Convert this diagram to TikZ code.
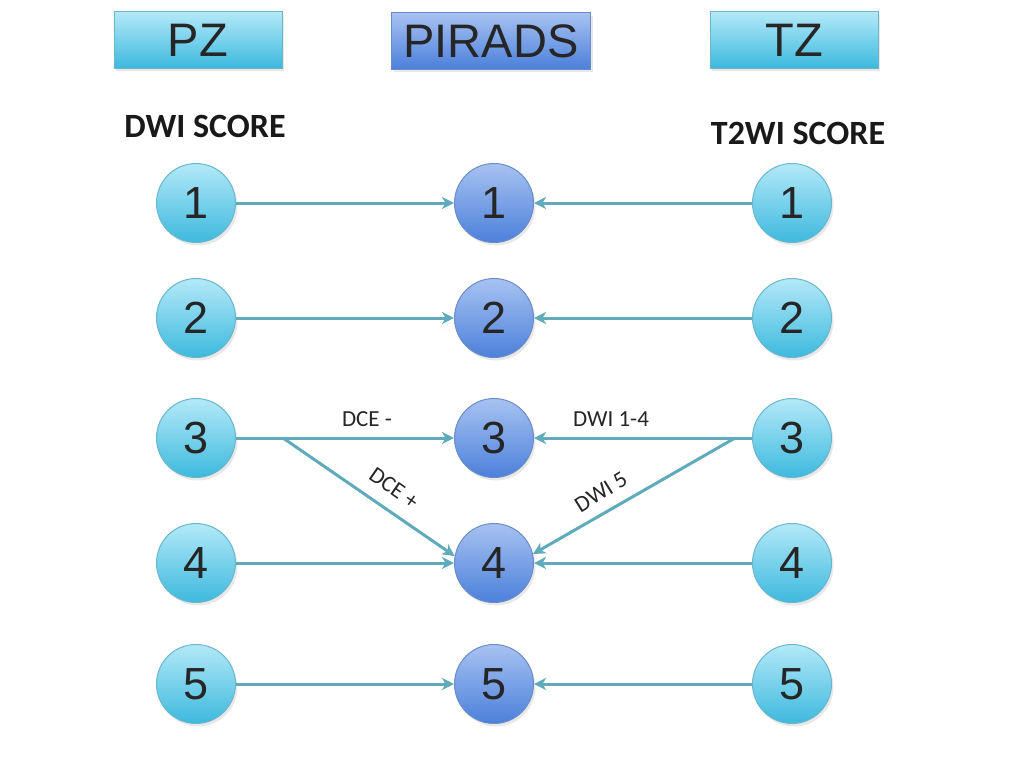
\documentclass[tikz,border=0pt]{standalone}
\usepackage{fontspec}
\setmainfont{Liberation Sans}
\newfontfamily\calib{Carlito}
\usetikzlibrary{arrows.meta,shadows}
\definecolor{cytop}{HTML}{B3E9F8}
\definecolor{cybot}{HTML}{3DB9DE}
\definecolor{cyedge}{HTML}{6AB7CC}
\definecolor{bltop}{HTML}{A7C2F2}
\definecolor{blbot}{HTML}{4C80DA}
\definecolor{bledge}{HTML}{6A8CC8}
\definecolor{arr}{HTML}{5FAABB}
\tikzset{
  cyan circ/.style={circle,draw=cyedge,line width=1pt,minimum size=79pt,inner sep=0pt,
    top color=cytop,bottom color=cybot,font=\fontsize{45}{45}\selectfont,text=black!85,
    drop shadow={opacity=0.18,shadow xshift=2pt,shadow yshift=-3pt}},
  blue circ/.style={cyan circ,draw=bledge,top color=bltop,bottom color=blbot},
  cyan box/.style={rectangle,draw=cyedge,line width=1pt,minimum width=168pt,minimum height=56pt,inner sep=0pt,
    top color=cytop,bottom color=cybot,font=\fontsize{47}{47}\selectfont,text=black!85,
    drop shadow={opacity=0.18,shadow xshift=2pt,shadow yshift=-3pt}},
  blue box/.style={cyan box,draw=bledge,top color=bltop,bottom color=blbot,minimum width=199pt},
  conn/.style={draw=arr,line width=3pt,-{Stealth[length=12pt,width=12pt,inset=3.5pt]}},
  head/.style={font=\calib\bfseries\fontsize{34}{34}\selectfont,text=black!90},
  lab/.style={font=\calib\fontsize{23}{23}\selectfont,text=black!85,inner sep=0pt}
}
\begin{document}
\begin{tikzpicture}[x=1pt,y=-1pt]
\useasboundingbox[fill=white] (0,0) rectangle (1024,768);
\node[cyan box] (pz) at (198,40) {PZ};
\node[blue box] (pirads) at (491,41) {PIRADS};
\node[cyan box] (tz) at (794,40) {TZ};
\node[head] (dwis) at (205,126) {DWI SCORE};
\node[head] (t2s) at (798,133) {T2WI SCORE};
\foreach \i/\y in {1/203,2/318,3/438,4/563,5/684}{
  \node[cyan circ] (l\i) at (196,\y) {\i};
  \node[blue circ] (m\i) at (494,\y) {\i};
  \node[cyan circ] (r\i) at (792,\y) {\i};
}
\foreach \i in {1,2,3,4,5}{
  \draw[conn] (l\i) -- (m\i);
  \draw[conn] (r\i) -- (m\i);
}
\coordinate (lb) at (283,438);
\coordinate (rb) at (735,438);
\draw[conn] (lb) -- (m4.170);
\draw[conn] (rb) -- (m4.13);
\node[lab] (dcem) at (367,419) {DCE -};
\node[lab] (dwi14) at (611,419) {DWI 1-4};
\node[lab,rotate=-35] (dcep) at (394,488) {DCE +};
\node[lab,rotate=32] (dwi5) at (601,492) {DWI 5};
\end{tikzpicture}
\end{document}
